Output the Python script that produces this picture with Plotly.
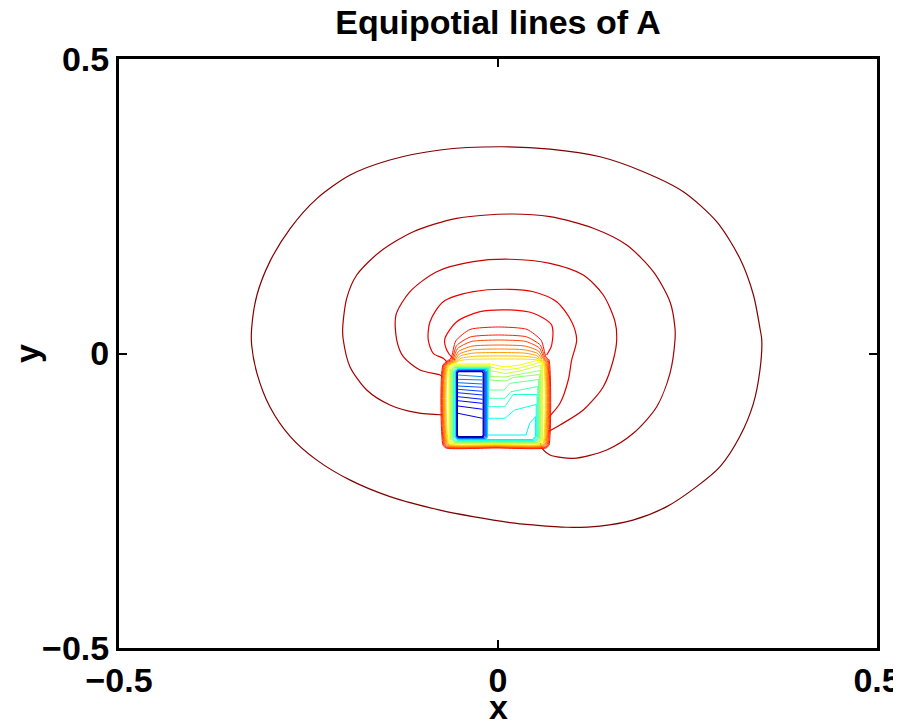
import plotly.graph_objects as go

# ---------------- data (axis units) ----------------
# outer equipotential lines (dark red -> red), level values on a 0..1 jet scale
c1_x = [0.0026, 0.0686, 0.1346, 0.1917, 0.2445, 0.2885, 0.319, 0.337, 0.3456, 0.348, 0.3456, 0.337, 0.319, 0.293,
        0.262, 0.2226, 0.178, 0.1346, 0.0906, 0.046, 0.0158, -0.033, -0.0765, -0.1425, -0.195, -0.239, -0.274,
        -0.301, -0.318, -0.325, -0.325, -0.318, -0.301, -0.274, -0.239, -0.195, -0.1427, -0.0765, 0.0026]
c1_y = [0.351, 0.347, 0.334, 0.3087, 0.2747, 0.2238, 0.1616, 0.0993, 0.0428, 0.0229, -0.028, -0.0846, -0.141, -0.192,
        -0.226, -0.260, -0.283, -0.293, -0.295, -0.291, -0.287, -0.277, -0.266, -0.243, -0.215, -0.181, -0.141,
        -0.0903, -0.0336, 0.0144, 0.0428, 0.0993, 0.156, 0.2126, 0.263, 0.303, 0.3285, 0.3455, 0.351]
c2_x = [-0.0722, -0.1073, -0.1425, -0.1732, -0.1953, -0.2041, -0.2049, -0.1996, -0.1864, -0.1557, -0.1117, -0.0545,
        0.0158, 0.0686, 0.1257, 0.1698, 0.2049, 0.2269, 0.2335, 0.2335, 0.2269, 0.2094, 0.1785, 0.1434, 0.0993,
        0.0686, 0.0598, 0.0554]
c2_y = [-0.1044, -0.1005, -0.0874, -0.062, -0.0224, 0.0229, 0.0428, 0.0937, 0.1333, 0.1728, 0.2068, 0.2295, 0.2368,
        0.2323, 0.2126, 0.1842, 0.1389, 0.0879, 0.0428, 0.0229, -0.0336, -0.0903, -0.1355, -0.1638, -0.178,
        -0.1723, -0.1638, -0.1525]
c3_x = [-0.0726, -0.0765, -0.1029, -0.1249, -0.1336, -0.1346, -0.1161, -0.0809, -0.0326, 0.0158, 0.0686, 0.1125,
        0.1389, 0.1544, 0.1566, 0.1521, 0.1389, 0.1125, 0.0818, 0.0664]
c3_y = [-0.0394, -0.0365, -0.028, -0.0054, 0.0229, 0.0654, 0.1049, 0.1389, 0.1559, 0.16, 0.1531, 0.1333, 0.0993,
        0.054, 0.0229, -0.011, -0.0564, -0.0959, -0.1214, -0.1328]
c4_x = [-0.0673, -0.0722, -0.0854, -0.092, -0.0897, -0.0722, -0.0326, 0.0158, 0.0466, 0.0774, 0.0972, 0.1038,
        0.0972, 0.0927, 0.0818, 0.066]
c4_y = [-0.0144, -0.0082, 0.0003, 0.0229, 0.054, 0.0879, 0.1049, 0.109, 0.1049, 0.0879, 0.054, 0.0229, -0.011,
        -0.045, -0.0846, -0.1095]
c5_x = [-0.0567, -0.0646, -0.0699, -0.0699, -0.0545, -0.0237, 0.0158, 0.0466, 0.0708, 0.0708, 0.0642]
c5_y = [-0.011, -0.0008, 0.0144, 0.0258, 0.054, 0.071, 0.0739, 0.0683, 0.0484, 0.0144, -0.0025]
outer_x = [c1_x, c2_x, c3_x, c4_x, c5_x]
outer_y = [c1_y, c2_y, c3_y, c4_y, c5_y]
outer_level = [1.0, 0.965, 0.93, 0.9, 0.875]

# lines hugging the whole conductor block (outside -> inside)
band_level = [0.86, 0.84, 0.81, 0.78, 0.75, 0.72, 0.69, 0.66, 0.63, 0.60, 0.57, 0.54, 0.51, 0.48, 0.45, 0.42,
              0.39, 0.36]
band_left = [-0.0726, -0.0716, -0.0706, -0.0696, -0.0686, -0.0676, -0.0666, -0.0656, -0.0646, -0.0637, -0.0627,
             -0.0617, -0.0607, -0.0597, -0.0587, -0.0577, -0.0567, -0.0557]
band_right = [0.0673, 0.0662, 0.0652, 0.0641, 0.0631, 0.062, 0.0609, 0.0599, 0.0588, 0.0578, 0.0567, 0.0557,
              0.0546, 0.0536, 0.0525, 0.0515, 0.0504, 0.0493]
band_bottom = [-0.1604, -0.1596, -0.1587, -0.1579, -0.157, -0.1562, -0.1553, -0.1545, -0.1537, -0.1528, -0.152,
               -0.1511, -0.1503, -0.1494, -0.1486, -0.1477, -0.1469, -0.146]
# arched tops (first 8 lines)
arc_corner_left = [-0.0195, -0.02, -0.0205, -0.0211, -0.0216, -0.0221, -0.0226, -0.0231]
arc_foot_left_x = [-0.062, -0.0607, -0.0594, -0.058, -0.0567, -0.0554, -0.0541, -0.0528]
arc_foot_left_y = [-0.0076, -0.0085, -0.0093, -0.0102, -0.011, -0.0119, -0.0127, -0.0136]
arc_foot_right_x = [0.0633, 0.062, 0.0607, 0.0594, 0.058, 0.0567, 0.0554, 0.0541]
arc_foot_right_y = [-0.0059, -0.0068, -0.0076, -0.0085, -0.0093, -0.0102, -0.011, -0.0119]
arc_apex_y = [0.045, 0.0314, 0.0229, 0.0144, 0.0076, 0.0017, -0.0042, -0.0093]
# flat / stepped tops (remaining 10 lines)
step_top = [-0.0178, -0.0195, -0.0212, -0.0226, -0.0236, -0.0245, -0.0251, -0.0256, -0.0261, -0.0267]
step_x = [
    [-0.0106, 0.0092, 0.029, 0.0588],
    [-0.0106, 0.0092, 0.029, 0.0578],
    [-0.0106, 0.0092, 0.029, 0.0567],
    [-0.0106, 0.0092, 0.0198, 0.0557],
    [-0.0106, 0.0106, 0.0198, 0.0546],
    [-0.0119, 0.0079, 0.0158, 0.0536],
    [-0.0124, 0.0092, 0.0172, 0.0525],
    [-0.0128, 0.0092, 0.0198, 0.0515],
    [-0.0132, 0.0092, 0.022, 0.0504],
    [-0.0136, 0.0369, 0.0418, 0.0493],
]
step_y = [
    [-0.0178, -0.0229, -0.0195, -0.0093],
    [-0.0229, -0.028, -0.0246, -0.0144],
    [-0.0289, -0.034, -0.0297, -0.0195],
    [-0.039, -0.0399, -0.0374, -0.0289],
    [-0.045, -0.0467, -0.0407, -0.0357],
    [-0.062, -0.062, -0.0506, -0.0441],
    [-0.0761, -0.0761, -0.0649, -0.056],
    [-0.0903, -0.0903, -0.0696, -0.0696],
    [-0.11, -0.11, -0.0959, -0.0866],
    [-0.1384, -0.1384, -0.1185, -0.1073],
]

# lines around the left (coil) rectangle
rect_level = [0.32, 0.27, 0.22, 0.16, 0.10, 0.04]
rect_left = [-0.0553, -0.0549, -0.0546, -0.0543, -0.054, -0.0537]
rect_right = [-0.0141, -0.0152, -0.0162, -0.0173, -0.0185, -0.0195]
rect_top = [-0.0273, -0.028, -0.0287, -0.0294, -0.0301, -0.0309]
rect_bottom = [-0.1452, -0.1443, -0.1435, -0.1428, -0.1421, -0.1413]

# lines crossing inside the coil rectangle
inner_level = [0.27, 0.25, 0.23, 0.21, 0.19, 0.17, 0.15, 0.13, 0.11, 0.09]
inner_x0 = -0.053
inner_x1 = -0.0204
inner_y_left = [-0.0365, -0.0438, -0.0496, -0.0552, -0.0608, -0.0666, -0.0733, -0.0801, -0.0891, -0.1015]
inner_y_right = [-0.0394, -0.045, -0.0518, -0.0574, -0.0642, -0.0705, -0.0778, -0.0846, -0.0947, -0.11]

tick_vals = [-0.5, 0, 0.5]
tick_text = ["\u22120.5", "0", "0.5"]


# ---------------- helpers ----------------
def jet(t):
    def c(v):
        return max(0.0, min(1.0, v))
    r = c(1.5 - abs(4 * t - 3))
    g = c(1.5 - abs(4 * t - 2))
    b = c(1.5 - abs(4 * t - 1))
    return "rgb(%d,%d,%d)" % (round(255 * r), round(255 * g), round(255 * b))


def dome(xl, yl, xr, yr, ya):
    w = xr - xl
    xs = [xl, xl + 0.05 * w, xl + 0.2 * w, xl + 0.5 * w, xr - 0.2 * w, xr - 0.05 * w, xr]
    ys = [yl, yl + 0.55 * (ya - yl), yl + 0.92 * (ya - yl), ya, yr + 0.92 * (ya - yr), yr + 0.55 * (ya - yr), yr]
    return xs, ys


fig = go.Figure()


def add_line(xs, ys, t, width=1.0, shape="linear", smoothing=1.0):
    line = dict(color=jet(t), width=width, shape=shape)
    if shape == "spline":
        line["smoothing"] = smoothing
    fig.add_trace(go.Scatter(x=xs, y=ys, mode="lines", line=line, hoverinfo="skip", showlegend=False))


# outer lines
for xs, ys, t in zip(outer_x, outer_y, outer_level):
    add_line(xs, ys, t, width=1.2, shape="spline", smoothing=0.8)

rx, ry = 0.004, 0.005
# arched band lines
for i in range(len(arc_apex_y)):
    L, R, B = band_left[i], band_right[i], band_bottom[i]
    dx, dy = dome(arc_foot_left_x[i], arc_foot_left_y[i], arc_foot_right_x[i], arc_foot_right_y[i], arc_apex_y[i])
    xm = 0.5 * (L + R)
    tr = arc_foot_right_y[i] - 0.005
    xs = [xm, L + rx, L, L] + dx + [R, R, R - rx, xm]
    ys = [B, B, B + ry, arc_corner_left[i]] + dy + [tr, B + ry, B, B]
    add_line(xs, ys, band_level[i], shape="spline", smoothing=0.6)

# flat / stepped band lines
n_arc = len(arc_apex_y)
for j in range(len(step_top)):
    i = n_arc + j
    L, R, B, T = band_left[i], band_right[i], band_bottom[i], step_top[j]
    xm = 0.5 * (L + R)
    sx, sy = step_x[j], step_y[j]
    xs = [xm, L + rx, L, L, L + rx, sx[0]] + sx + [R, R, R - rx, xm]
    ys = [B, B, B + ry, T - ry, T, T] + sy + [B + ry, B + ry, B, B]
    add_line(xs, ys, band_level[i])

# lines around the coil rectangle
for i in range(len(rect_level)):
    L, R, T, B = rect_left[i], rect_right[i], rect_top[i], rect_bottom[i]
    r1, r2 = 0.0015, 0.002
    xm = 0.5 * (L + R)
    xs = [xm, L + r1, L, L, L + r1, R - r1, R, R, R - r1, xm]
    ys = [B, B, B + r2, T - r2, T, T, T - r2, B + r2, B, B]
    add_line(xs, ys, rect_level[i], width=1.3 if i == len(rect_level) - 1 else 1.0)

# lines inside the coil rectangle
for yl, yr, t in zip(inner_y_left, inner_y_right, inner_level):
    add_line([inner_x0, inner_x1], [yl, yr], t)

# ---------------- layout ----------------
# the page body has an 8 px margin, so the figure is 8 px smaller each way
FONT = "Liberation Sans"
tickfont = dict(family=FONT, size=34, color="black", weight="bold")
axis_common = dict(
    range=[-0.5, 0.5], tickvals=tick_vals, ticktext=tick_text,
    showgrid=False, zeroline=False, showline=True, linewidth=3, linecolor="black",
    mirror="ticks", ticks="inside", ticklen=8, tickwidth=2, tickcolor="black",
    tickfont=tickfont, automargin=False,
)
fig.update_layout(
    width=893, height=715,
    margin=dict(l=111, r=24, t=51, b=75),
    paper_bgcolor="white", plot_bgcolor="white",
    showlegend=False,
    title=dict(text="Equipotial lines of A", x=0.5, xref="paper", xanchor="center",
               y=1 - 14 / 715, yref="container", yanchor="middle", automargin=False,
               font=dict(family=FONT, size=34, color="black", weight="bold")),
    xaxis=dict(**axis_common),
    yaxis=dict(**axis_common),
    annotations=[
        dict(text="x", xref="paper", yref="paper", x=0.5, y=-0.1, xanchor="center", yanchor="middle",
             showarrow=False, font=dict(family=FONT, size=34, color="black", weight="bold")),
        dict(text="y", xref="paper", yref="paper", x=-0.122, y=0.5, xanchor="center", yanchor="middle",
             textangle=-90, showarrow=False, font=dict(family=FONT, size=34, color="black", weight="bold")),
    ],
)

fig.write_html("out.html")
